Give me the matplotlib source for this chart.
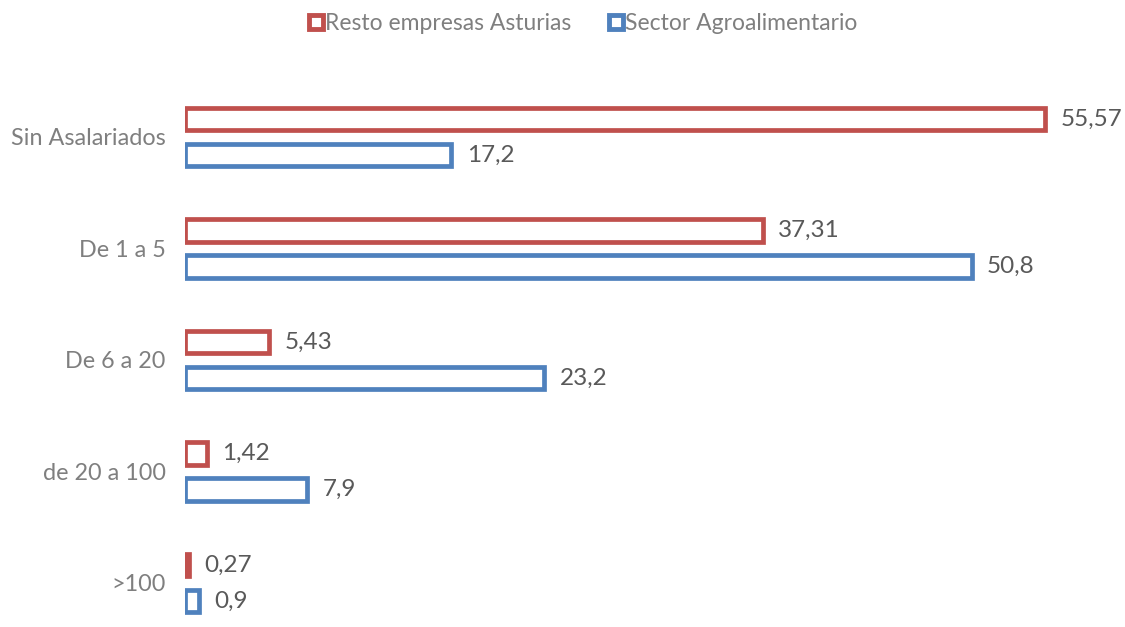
import matplotlib.pyplot as plt
from matplotlib.lines import Line2D

categories = ["Sin Asalariados", "De 1 a 5", "De 6 a 20", "de 20 a 100", ">100"]
resto = [55.57, 37.31, 5.43, 1.42, 0.27]
agro = [17.2, 50.8, 23.2, 7.9, 0.9]
resto_labels = ["55,57", "37,31", "5,43", "1,42", "0,27"]
agro_labels = ["17,2", "50,8", "23,2", "7,9", "0,9"]

red = "#C0504D"
blue = "#4F81BD"
txt = "#595959"

plt.rcParams['font.family'] = ['Lato', 'DejaVu Sans']

fig = plt.figure(figsize=(11.25, 6.27), dpi=100)
ax = fig.add_axes([185 / 1125, 0, 929 / 1125, 547 / 627])

y = list(range(len(categories)))
off = 0.162
h = 0.2
lw = 3.4

ax.barh([v - off for v in y], resto, height=h, color="white", edgecolor=red, linewidth=lw)
ax.barh([v + off for v in y], agro, height=h, color="white", edgecolor=blue, linewidth=lw)

for i in y:
    ax.text(resto[i] + 1.0, i - off, resto_labels[i], va="center", ha="left",
            fontsize=17.5, color=txt)
    ax.text(agro[i] + 1.0, i + off, agro_labels[i], va="center", ha="left",
            fontsize=17.5, color=txt)

ax.set_xlim(0, 60)
ax.set_ylim(4.395, -0.511)
ax.set_yticks(y)
ax.set_yticklabels(categories, fontsize=16.8, color="#7F7F7F")
ax.tick_params(axis="y", length=0, pad=14)
ax.set_xticks([])
for s in ax.spines.values():
    s.set_visible(False)

handles = [
    Line2D([], [], marker="s", linestyle="none", markersize=10, markerfacecolor="white",
           markeredgecolor=red, markeredgewidth=3.5),
    Line2D([], [], marker="s", linestyle="none", markersize=10, markerfacecolor="white",
           markeredgecolor=blue, markeredgewidth=3.5),
]
fig.legend(handles, ["Resto empresas Asturias", "Sector Agroalimentario"],
           loc="center", bbox_to_anchor=(0.518, 1 - 24 / 627), ncol=2, frameon=False,
           fontsize=16.5, labelcolor="#7F7F7F", handletextpad=0.05, columnspacing=1.6,
           handlelength=0.7)

fig.savefig("out.png", dpi=100, facecolor="white")
